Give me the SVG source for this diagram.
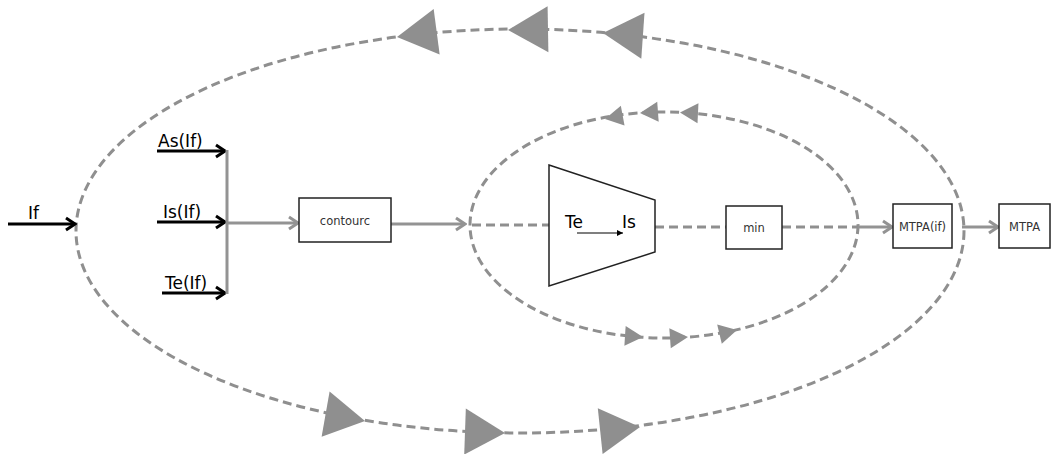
<svg xmlns="http://www.w3.org/2000/svg" width="1054" height="454" viewBox="0 0 1054 454">
<style>
.dash{fill:none;stroke:#8f8f8f;stroke-width:3;stroke-dasharray:9 5}
.gline{fill:none;stroke:#939393;stroke-width:3}
.bline{fill:none;stroke:#000;stroke-width:3}
.box{fill:#fff;stroke:#222;stroke-width:1.5}
.tri{fill:#8f8f8f}
.lbl{font-family:"DejaVu Sans",sans-serif;font-size:17px;fill:#000}
.sm{font-family:"DejaVu Sans",sans-serif;font-size:11.5px;fill:#333;text-anchor:middle}
</style>
<defs>
<marker id="gh" markerUnits="userSpaceOnUse" markerWidth="14" markerHeight="16" refX="12" refY="8" orient="auto">
<path d="M3,2 L12,8 L3,14" fill="none" stroke="#939393" stroke-width="3"/>
</marker>
<marker id="bh" markerUnits="userSpaceOnUse" markerWidth="14" markerHeight="16" refX="12" refY="8" orient="auto">
<path d="M3,2 L12,8 L3,14" fill="none" stroke="#000" stroke-width="3"/>
</marker>
<marker id="sh" markerUnits="userSpaceOnUse" markerWidth="8" markerHeight="8" refX="7" refY="4" orient="auto">
<path d="M1,1 L7,4 L1,7 Z" fill="#000"/>
</marker>
<path id="bigtri" d="M0,0 L-40,-23 L-40,23 Z"/>
<path id="smtri" d="M0,0 L-18,-10 L-18,10 Z"/>
</defs>

<g id="connectors">
<ellipse class="dash" cx="520" cy="231" rx="444" ry="202"/>
<ellipse class="dash" cx="664" cy="225" rx="194" ry="113"/>
<g class="tri">
<use href="#bigtri" transform="translate(397,37) rotate(172.5)"/>
<use href="#bigtri" transform="translate(508,30) rotate(179)"/>
<use href="#bigtri" transform="translate(603,33) rotate(184)"/>
<use href="#bigtri" transform="translate(365,421) rotate(10)"/>
<use href="#bigtri" transform="translate(505,433) rotate(2)"/>
<use href="#bigtri" transform="translate(640,427) rotate(-6)"/>
<use href="#smtri" transform="translate(605,119) rotate(169.4)"/>
<use href="#smtri" transform="translate(640,113) rotate(175.8)"/>
<use href="#smtri" transform="translate(680,112.5) rotate(182.7)"/>
<use href="#smtri" transform="translate(643,337) rotate(3.6)"/>
<use href="#smtri" transform="translate(688,337) rotate(-4.2)"/>
<use href="#smtri" transform="translate(737,330) rotate(-13.3)"/>
</g>
<line class="bline" x1="8" y1="224" x2="75" y2="224" marker-end="url(#bh)"/>
<line class="bline" x1="157" y1="151" x2="225" y2="151" marker-end="url(#bh)"/>
<line class="bline" x1="157" y1="222" x2="225" y2="222" marker-end="url(#bh)"/>
<line class="bline" x1="162" y1="293" x2="225" y2="293" marker-end="url(#bh)"/>
<line class="gline" x1="227" y1="150" x2="227" y2="294"/>
<line class="gline" x1="227" y1="223" x2="298" y2="223" marker-end="url(#gh)"/>
<line class="gline" x1="391" y1="224" x2="465" y2="224" marker-end="url(#gh)"/>
<line class="dash" x1="472" y1="225" x2="549" y2="225"/>
<line class="dash" x1="655" y1="227" x2="726" y2="227"/>
<line class="dash" x1="782" y1="227" x2="857" y2="227"/>
<line class="gline" x1="858" y1="227" x2="892" y2="227" marker-end="url(#gh)"/>
<line class="gline" x1="962" y1="227" x2="998" y2="227" marker-end="url(#gh)"/>
</g>

<g id="node-If"><text class="lbl" x="28" y="219">If</text></g>
<g id="node-As"><text class="lbl" x="158" y="147">As(If)</text></g>
<g id="node-Is"><text class="lbl" x="163" y="218">Is(If)</text></g>
<g id="node-Te"><text class="lbl" x="165" y="289">Te(If)</text></g>
<g id="node-contourc">
<rect class="box" x="299" y="198" width="92" height="44"/>
<text class="sm" x="345" y="225">contourc</text>
</g>
<g id="node-trapezoid">
<polygon class="box" points="549,165 655,200 655,252 549,286"/>
<text class="lbl" x="565" y="228">Te</text>
<text class="lbl" x="622" y="228">Is</text>
<line x1="577" y1="233" x2="623" y2="233" stroke="#000" stroke-width="1.2" marker-end="url(#sh)"/>
</g>
<g id="node-min">
<rect class="box" x="726" y="206" width="56" height="43"/>
<text class="sm" x="754" y="232">min</text>
</g>
<g id="node-MTPAif">
<rect class="box" x="893" y="204" width="59" height="44"/>
<text class="sm" x="922.5" y="231">MTPA(if)</text>
</g>
<g id="node-MTPA">
<rect class="box" x="999" y="204" width="51" height="44"/>
<text class="sm" x="1024.5" y="231">MTPA</text>
</g>
</svg>
